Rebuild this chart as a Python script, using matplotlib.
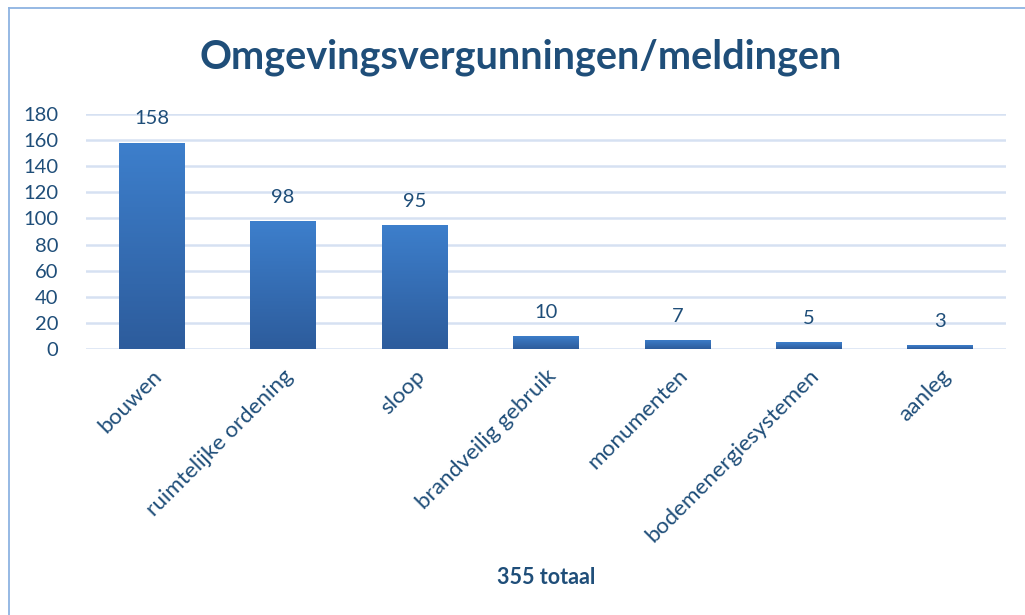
import numpy as np
import matplotlib
matplotlib.use("Agg")
import matplotlib.pyplot as plt
from matplotlib.colors import LinearSegmentedColormap
from matplotlib.lines import Line2D

categories = ["bouwen", "ruimtelijke ordening", "sloop", "brandveilig gebruik",
              "monumenten", "bodemenergiesystemen", "aanleg"]
values = [158, 98, 95, 10, 7, 5, 3]
yticks = [0, 20, 40, 60, 80, 100, 120, 140, 160, 180]
title = "Omgevingsvergunningen/meldingen"
xlabel = "355 totaal"

plt.rcParams['font.family'] = ['Lato', 'DejaVu Sans']
text_color = "#1F4E79"
title_color = "#1F4E79"

fig = plt.figure(figsize=(10.25, 6.15), dpi=100)
ax = fig.add_axes([86/1025, 1-349/615, (1006-86)/1025, (349-114)/615])

x = np.arange(len(categories))
bars = ax.bar(x, values, width=0.5, color="#3570B8", zorder=3, linewidth=0)

cmap = LinearSegmentedColormap.from_list("g", ["#2D5C9C", "#3D7FCC"])
grad = np.linspace(0, 1, 256).reshape(-1, 1)
for b in bars:
    x0, y0 = b.get_x(), b.get_y()
    w, h = b.get_width(), b.get_height()
    im = ax.imshow(grad, extent=[x0, x0 + w, y0, y0 + h], origin="lower",
                   aspect="auto", cmap=cmap, zorder=4)
    im.set_clip_path(b)
    ax.bar(b.get_x() + w/2, 1.2, width=w, bottom=-1.2, color="#BFBFBF",
           alpha=0.6, zorder=2, linewidth=0)

for xi, v in zip(x, values):
    ax.annotate(str(v), (xi, v), xytext=(0, 11), textcoords="offset points",
                ha="center", va="bottom", fontsize=14.5, color=text_color)

ax.set_xlim(-0.5, len(categories) - 0.5)
ax.set_ylim(0, 180)
ax.set_yticks(yticks)
ax.grid(axis="y", color="#D6E1F2", linewidth=1.8, zorder=0)
ax.set_axisbelow(True)
for s in ax.spines.values():
    s.set_visible(False)
ax.tick_params(axis="y", length=0, labelsize=14.5, labelcolor=text_color, pad=20)
ax.tick_params(axis="x", length=0, labelsize=16.2, labelcolor=text_color, pad=12)
ax.set_xticks(x)
ax.set_xticklabels(categories, rotation=45, ha="right", rotation_mode="anchor")

fig.text(521/1025, 1-57/615, title, ha="center", va="center", fontsize=28.5,
         fontweight="bold", color=title_color)
fig.text(546/1025, 1-577/615, xlabel, ha="center", va="center", fontsize=15.5,
         fontweight="bold", color=title_color)

fig.add_artist(Line2D([9/1025, 9/1025], [0, 1-8/615], transform=fig.transFigure,
                      color="#8DB3E2", linewidth=1.3))
fig.add_artist(Line2D([9/1025, 1.0], [1-8/615, 1-8/615], transform=fig.transFigure,
                      color="#8DB3E2", linewidth=1.3))

fig.savefig("out.png", dpi=100)
